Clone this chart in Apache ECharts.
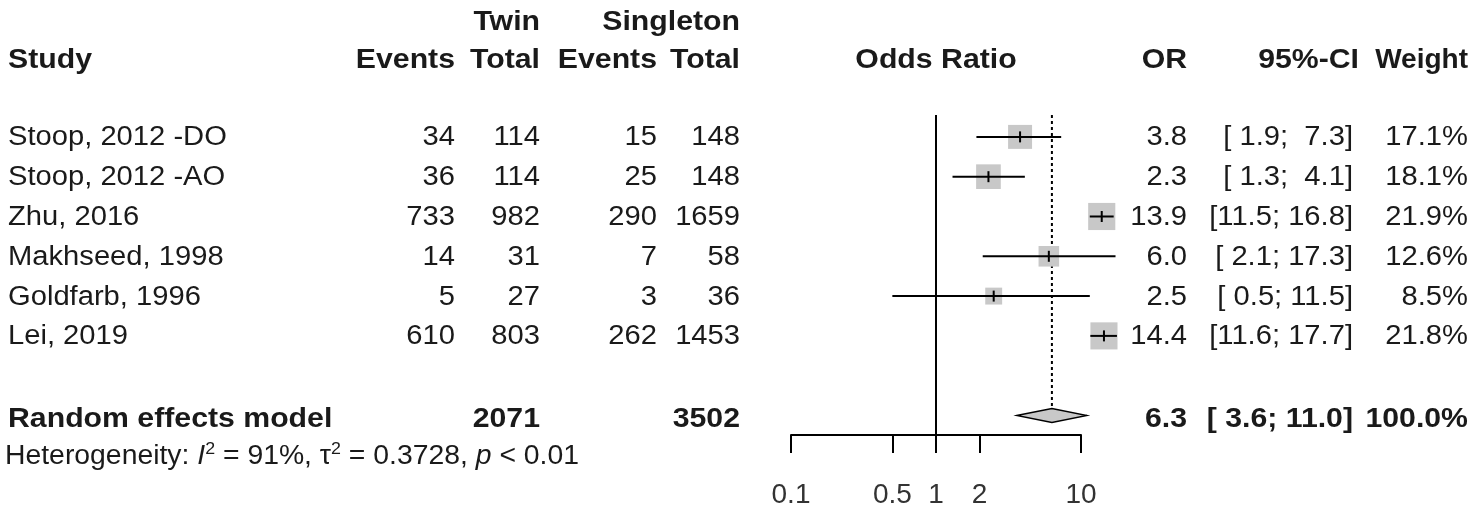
<!DOCTYPE html>
<html>
<head>
<meta charset="utf-8">
<script src="https://cdn.jsdelivr.net/npm/echarts@6/dist/echarts.min.js"></script>
<style>html,body{margin:0;padding:0;background:#fff;}#chart{width:1478px;height:511px;}</style>
</head>
<body>
<div id="chart"></div>
<script>
// ---------- data ----------
const studies = ['Stoop, 2012 -DO', 'Stoop, 2012 -AO', 'Zhu, 2016', 'Makhseed, 1998', 'Goldfarb, 1996', 'Lei, 2019'];
const twinEvents = [34, 36, 733, 14, 5, 610];
const twinTotal = [114, 114, 982, 31, 27, 803];
const singletonEvents = [15, 25, 290, 7, 3, 262];
const singletonTotal = [148, 148, 1659, 58, 36, 1453];
const oddsRatio = [3.8, 2.3, 13.9, 6.0, 2.5, 14.4];
const ciLower = [1.9, 1.3, 11.5, 2.1, 0.5, 11.6];
const ciUpper = [7.3, 4.1, 16.8, 17.3, 11.5, 17.7];
const weights = [17.1, 18.1, 21.9, 12.6, 8.5, 21.8];
const pooledLabel = 'Random effects model';
const pooledOR = [6.3];
const pooledCI = [3.6, 11.0];
const pooledTotals = [2071, 3502];
const pooledWeight = ['100.0%'];
const heterogeneity = ['91%', '0.3728', '< 0.01'];
const tickValues = [0.1, 0.5, 1, 2, 10];
const tickLabels = ['0.1', '0.5', '1', '2', '10'];

// ---------- layout / style ----------
const FONT = '"Liberation Sans", Arial, Helvetica, sans-serif';
const FS = 27, SX = 1.08;      // regular text
const FSB = 28, SXB = 1.08;    // bold text
const COL = { study: 8, twEv: 455, twTot: 540, sgEv: 657, sgTot: 740, or: 1187, ci: 1353, ciHead: 1359, wt: 1468 };
const TXT = '#1a1a1a';
const SQ_K = 5.8;
const ROW_RE = 7, Y_MIN = -0.55, Y_MAX = 7.49;

function fmt1(v) { return v.toFixed(1); }
function pad(s, n) { while (s.length < n) s = ' ' + s; return s; }
function ciText(lo, hi) { return '[' + pad(fmt1(lo), 4) + '; ' + pad(fmt1(hi), 4) + ']'; }

function txt(x, y, s, align, bold, sx) {
  return {
    type: 'text', x: x, y: y, scaleX: sx || (bold ? SXB : SX),
    style: {
      text: s, x: 0, y: 0, align: align, verticalAlign: 'middle', fill: TXT,
      font: (bold ? 'bold ' : '') + (bold ? FSB : FS) + 'px ' + FONT
    }
  };
}

const chart = echarts.init(document.getElementById('chart'), null, { renderer: 'canvas' });

const option = {
  animation: false,
  backgroundColor: '#fff',
  grid: { left: 791, right: 397, top: 115, bottom: 76, containLabel: false },
  xAxis: {
    type: 'log', logBase: 10, min: 0.1, max: 10,
    splitLine: { show: false },
    axisLine: { show: true, onZero: false, lineStyle: { color: '#000', width: 2 } },
    axisTick: { show: true, length: 18, lineStyle: { color: '#000', width: 2 }, customValues: tickValues },
    axisLabel: {
      show: true, customValues: tickValues, margin: 46, fontSize: 28, fontFamily: FONT, color: '#333',
      formatter: function (v) { const i = tickValues.findIndex(t => Math.abs(t - v) < 1e-9); return i >= 0 ? tickLabels[i] : ''; }
    },
    minorTick: { show: false }
  },
  yAxis: { type: 'value', inverse: true, min: Y_MIN, max: Y_MAX, show: false },
  series: [
    // reference line (OR = 1) and dotted pooled line
    {
      type: 'custom', silent: true, clip: false, z: 1,
      data: [[1, 0]],
      renderItem: function (params, api) {
        const a = api.coord([1, Y_MIN]), b = api.coord([1, Y_MAX]);
        const p = api.coord([pooledOR[0], Y_MIN]), q = api.coord([pooledOR[0], ROW_RE]);
        return {
          type: 'group', children: [
            { type: 'line', shape: { x1: a[0], y1: a[1], x2: b[0], y2: b[1] }, style: { stroke: '#000', lineWidth: 2 } },
            { type: 'line', shape: { x1: p[0], y1: p[1], x2: q[0], y2: q[1] - 7 }, style: { stroke: '#000', lineWidth: 2, lineDash: [3, 3] } }
          ]
        };
      }
    },
    // study squares and CIs
    {
      type: 'custom', silent: true, clip: false, z: 2,
      data: oddsRatio.map((v, i) => [v, i, ciLower[i], ciUpper[i], weights[i]]),
      encode: { x: 0, y: 1 },
      renderItem: function (params, api) {
        const i = params.dataIndex;
        const c = api.coord([oddsRatio[i], i]);
        const lo = api.coord([ciLower[i], i]);
        const hi = api.coord([ciUpper[i], i]);
        const s = SQ_K * Math.sqrt(weights[i]);
        return {
          type: 'group', children: [
            { type: 'rect', shape: { x: c[0] - s / 2, y: c[1] - s / 2, width: s, height: s }, style: { fill: '#c8c8c8' } },
            { type: 'line', shape: { x1: lo[0], y1: c[1], x2: hi[0], y2: c[1] }, style: { stroke: '#000', lineWidth: 2 } },
            { type: 'line', shape: { x1: c[0], y1: c[1] - 5.5, x2: c[0], y2: c[1] + 5.5 }, style: { stroke: '#000', lineWidth: 2 } }
          ]
        };
      }
    },
    // pooled diamond
    {
      type: 'custom', silent: true, clip: false, z: 3,
      data: [[pooledOR[0], ROW_RE, pooledCI[0], pooledCI[1]]],
      encode: { x: 0, y: 1 },
      renderItem: function (params, api) {
        const c = api.coord([pooledOR[0], ROW_RE]);
        const lo = api.coord([pooledCI[0], ROW_RE]);
        const hi = api.coord([pooledCI[1], ROW_RE]);
        return {
          type: 'polygon',
          shape: { points: [[lo[0], c[1]], [c[0], c[1] - 7], [hi[0], c[1]], [c[0], c[1] + 7]] },
          style: { fill: '#c8c8c8', stroke: '#000', lineWidth: 1.3 }
        };
      }
    },
    // study table rows
    {
      type: 'custom', silent: true, clip: false, z: 4,
      data: studies.map((s, i) => [1, i]),
      encode: { x: 0, y: 1 },
      renderItem: function (params, api) {
        const i = params.dataIndex;
        const y = api.coord([1, i])[1] + 1;
        return {
          type: 'group', children: [
            txt(COL.study, y, studies[i], 'left', false),
            txt(COL.twEv, y, String(twinEvents[i]), 'right', false),
            txt(COL.twTot, y, String(twinTotal[i]), 'right', false),
            txt(COL.sgEv, y, String(singletonEvents[i]), 'right', false),
            txt(COL.sgTot, y, String(singletonTotal[i]), 'right', false),
            txt(COL.or, y, fmt1(oddsRatio[i]), 'right', false),
            txt(COL.ci, y, ciText(ciLower[i], ciUpper[i]), 'right', false),
            txt(COL.wt, y, fmt1(weights[i]) + '%', 'right', false)
          ]
        };
      }
    },
    // headers, pooled row text, heterogeneity
    {
      type: 'custom', silent: true, clip: false, z: 4,
      data: [[1, 0]],
      encode: { x: 0, y: 1 },
      renderItem: function (params, api) {
        const yH1 = api.coord([1, -2.88])[1];
        const yH2 = api.coord([1, -1.93])[1];
        const yRE = api.coord([1, ROW_RE])[1] + 4;
        const yHet = api.coord([1, 8.02])[1];
        const xMid = api.coord([1, 0])[0];
        const het = {
          type: 'text', x: 5, y: yHet, scaleX: 1.05,
          style: {
            x: 0, y: 0, align: 'left', verticalAlign: 'middle', fill: TXT,
            font: FS + 'px ' + FONT,
            text: 'Heterogeneity: {it|I}{sup|2} = ' + heterogeneity[0] + ', \u03c4{sup|2} = ' + heterogeneity[1] + ', {it|p} ' + heterogeneity[2],
            rich: {
              it: { fontStyle: 'italic', fontSize: FS, fontFamily: FONT, fill: TXT },
              sup: { fontSize: 17, fontFamily: FONT, fill: TXT, verticalAlign: 'top', lineHeight: 30 }
            }
          }
        };
        return {
          type: 'group', children: [
            txt(COL.twTot, yH1, 'Twin', 'right', true),
            txt(COL.sgTot, yH1, 'Singleton', 'right', true),
            txt(COL.study, yH2, 'Study', 'left', true),
            txt(COL.twEv, yH2, 'Events', 'right', true),
            txt(COL.twTot, yH2, 'Total', 'right', true),
            txt(COL.sgEv, yH2, 'Events', 'right', true),
            txt(COL.sgTot, yH2, 'Total', 'right', true),
            txt(xMid, yH2, 'Odds Ratio', 'center', true),
            txt(COL.or, yH2, 'OR', 'right', true),
            txt(COL.ciHead, yH2, '95%-CI', 'right', true),
            txt(COL.wt, yH2, 'Weight', 'right', true, 1.0),
            txt(COL.study, yRE, pooledLabel, 'left', true),
            txt(COL.twTot, yRE, String(pooledTotals[0]), 'right', true),
            txt(COL.sgTot, yRE, String(pooledTotals[1]), 'right', true),
            txt(COL.or, yRE, fmt1(pooledOR[0]), 'right', true),
            txt(COL.ci, yRE, ciText(pooledCI[0], pooledCI[1]), 'right', true),
            txt(COL.wt, yRE, pooledWeight[0], 'right', true),
            het
          ]
        };
      }
    }
  ]
};
chart.setOption(option);
</script>
</body>
</html>
